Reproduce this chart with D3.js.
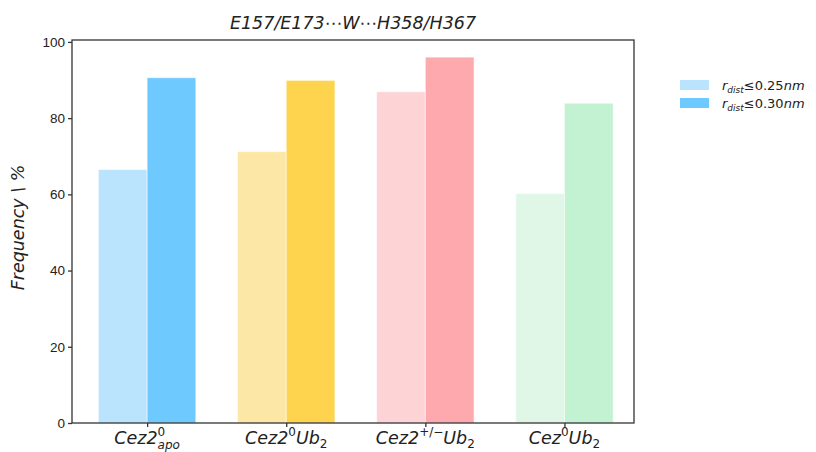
<!DOCTYPE html>
<html>
<head>
<meta charset="utf-8">
<script src="https://cdn.jsdelivr.net/npm/d3@7"></script>
<style>
  body { margin: 0; background: #fff; }
  svg { font-family: "DejaVu Sans", sans-serif; }
  .axis text { font-size: 13.5px; fill: #222; }
  .axis path, .axis line { stroke: #333; stroke-width: 1.3; }
</style>
</head>
<body>
<svg width="816" height="452"></svg>
<script>
const categories = ["apo", "Ub2", "pm", "cezUb2"];
const series = ["r025", "r030"];
const valuesR025 = [66.5, 71.2, 86.9, 60.2];
const valuesR030 = [90.6, 89.9, 96.0, 83.9];
const yTicks = [0, 20, 40, 60, 80, 100];
const lightColors = ["#bae3fd", "#fde7a6", "#fdd3d6", "#e0f7e8"];
const darkColors = ["#6ec9fe", "#fed44f", "#fea9ad", "#c2f2d1"];

const svg = d3.select("svg");
const plotL = 72, plotR = 634, plotT = 40, plotB = 423;

const x = d3.scaleLinear().domain([-0.54, 3.5]).range([plotL, plotR]);
const y = d3.scaleLinear().domain([0, 100.5]).range([plotB, plotT]);
const barW = 0.35;

const rows = categories.map((c, i) => ({ i, a: valuesR025[i], b: valuesR030[i] }));

const g = svg.append("g");

// bars
g.selectAll(".barA")
  .data(rows)
  .enter()
  .append("rect")
  .attr("x", d => x(d.i - barW))
  .attr("width", d => x(barW) - x(0))
  .attr("y", d => y(d.a))
  .attr("height", d => y(0) - y(d.a))
  .attr("fill", d => lightColors[d.i])
  .attr("stroke", "#ffffff")
  .attr("stroke-opacity", 0.5)
  .attr("stroke-width", 1);

g.selectAll(".barB")
  .data(rows)
  .enter()
  .append("rect")
  .attr("x", d => x(d.i))
  .attr("width", d => x(barW) - x(0))
  .attr("y", d => y(d.b))
  .attr("height", d => y(0) - y(d.b))
  .attr("fill", d => darkColors[d.i])
  .attr("stroke", "#ffffff")
  .attr("stroke-opacity", 0.5)
  .attr("stroke-width", 1);

// frame
svg.append("rect")
  .attr("x", plotL).attr("y", plotT)
  .attr("width", plotR - plotL).attr("height", plotB - plotT)
  .attr("fill", "none").attr("stroke", "#333").attr("stroke-width", 1.3);

// y axis
svg.append("g")
  .attr("class", "axis")
  .attr("transform", `translate(${plotL},0)`)
  .call(d3.axisLeft(y).tickValues(yTicks).tickSize(4).tickPadding(3))
  .call(a => a.select(".domain").remove());

// x axis
svg.append("g")
  .attr("class", "axis")
  .attr("transform", `translate(0,${plotB})`)
  .call(d3.axisBottom(x).tickValues(d3.range(categories.length)).tickSize(4).tickFormat(""))
  .call(a => a.select(".domain").remove());

// x tick labels: [text, level] level 0 = base, 1 = sup, -1 = sub
const labelParts = [
  [["Cez2", 0], ["0", 1], ["apo", -1]],
  [["Cez2", 0], ["0", 1], ["Ub", 0], ["2", -1]],
  [["Cez2", 0], ["+/\u2212", 1], ["Ub", 0], ["2", -1]],
  [["Cez", 0], ["0", 1], ["Ub", 0], ["2", -1]]
];
const baseSize = 17.5, smallSize = 12;

// each piece is its own text so a sub can sit right under a sup
labelParts.forEach((parts, i) => {
  const lg = svg.append("g");
  let cx = 0, lastX = 0, width = 0;
  parts.forEach((p, k) => {
    const stack = k > 0 && parts[k - 1][1] === 1 && p[1] === -1;
    const px = stack ? lastX : cx;
    const t = lg.append("text")
      .attr("x", px)
      .attr("y", p[1] === 1 ? -8 : p[1] === -1 ? (stack ? 5 : 4) : 0)
      .style("font-size", (p[1] === 0 ? baseSize : smallSize) + "px")
      .style("font-style", /^[A-Za-z]/.test(p[0]) ? "italic" : "normal")
      .attr("fill", "#222")
      .text(p[0]);
    const len = t.node().getComputedTextLength();
    lastX = px;
    cx = Math.max(cx, px + len);
    width = cx;
  });
  lg.attr("transform", `translate(${x(i) - width / 2},444)`);
});

// title
svg.append("text")
  .attr("x", (plotL + plotR) / 2)
  .attr("y", 29)
  .attr("text-anchor", "middle")
  .style("font-size", "17.5px")
  .style("font-style", "italic")
  .attr("fill", "#222")
  .text("E157/E173\u22efW\u22efH358/H367");

// y label
svg.append("text")
  .attr("transform", `translate(24,${(plotT + plotB) / 2 - 4}) rotate(-90)`)
  .attr("text-anchor", "middle")
  .style("font-size", "17.5px")
  .style("font-style", "italic")
  .attr("fill", "#222")
  .text("Frequency \\ %");

// legend
const legendLabels = ["0.25", "0.30"];
const legend = svg.append("g").attr("transform", "translate(680,80)");
series.forEach((s, k) => {
  const row = legend.append("g").attr("transform", `translate(0,${k * 18})`);
  row.append("rect")
    .attr("width", 29).attr("height", 10)
    .attr("fill", k === 0 ? lightColors[0] : darkColors[0]);
  const t = row.append("text")
    .attr("x", 42).attr("y", 10)
    .style("font-size", "13px")
    .attr("fill", "#222");
  t.append("tspan").style("font-style", "italic").text("r");
  t.append("tspan").style("font-style", "italic").style("font-size", "9px").attr("dy", 3).text("dist");
  t.append("tspan").attr("dy", -3).text("\u2264" + legendLabels[k]);
  t.append("tspan").style("font-style", "italic").text("nm");
});
</script>
</body>
</html>
